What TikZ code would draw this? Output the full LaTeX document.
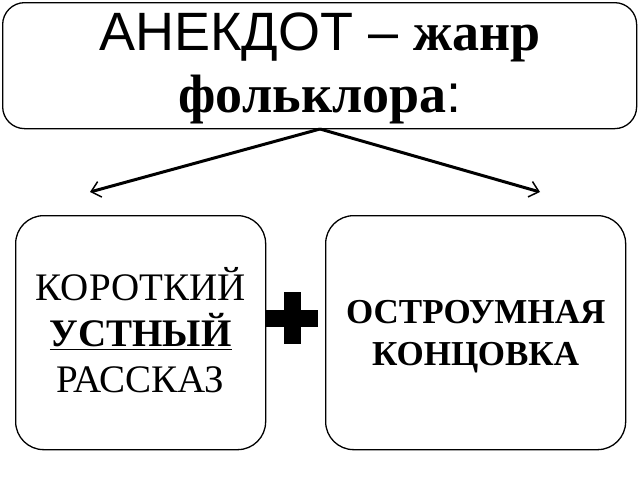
\documentclass[tikz,border=0pt]{standalone}
\usepackage{fontspec}
\setmainfont{Liberation Serif}
\newfontfamily\arialf{Liberation Sans}
\usetikzlibrary{arrows.meta}
\begin{document}
\begin{tikzpicture}[x=1pt,y=-1pt,
  box/.style={draw=black,line width=1.3pt,rounded corners=28pt,fill=white},
  arr/.style={line width=3pt,-{Straight Barb[length=9pt,width=16pt,line width=1.5pt]}}]
\useasboundingbox (0,0) rectangle (640,480);
\node[box,rounded corners=22pt,minimum width=634pt,minimum height=126pt,anchor=north west] (title) at (2,2) {};
\node[align=center,font=\fontsize{54}{62}\selectfont] (tt) at (320,68) {{\arialf АНЕКДОТ – }\textbf{жанр}\\\textbf{фольклора}{\arialf :}};
\coordinate (top) at (320,129);
\coordinate (l) at (90,192);
\coordinate (r) at (540,192);
\draw[arr] (top) -- (l);
\draw[arr] (top) -- (r);
\node[box,minimum width=250pt,minimum height=234pt,anchor=north west] (left) at (15,215) {};
\node[box,minimum width=300pt,minimum height=234pt,anchor=north west] (right) at (325,215) {};
\node[align=center,font=\fontsize{39}{46}\selectfont] (lt) at ([yshift=2pt]left.center) {КОРОТКИЙ\\\textbf{\underline{УСТНЫЙ}}\\РАССКАЗ};
\node[align=center,font=\fontsize{35}{42}\selectfont\bfseries] (rt) at ([yshift=-4pt]right.center) {ОСТРОУМНАЯ\\КОНЦОВКА};
\node[fill=black,minimum width=52pt,minimum height=17pt,inner sep=0pt] (ph) at (292,318) {};
\node[fill=black,minimum width=17pt,minimum height=52pt,inner sep=0pt] (pv) at (292,318) {};
\end{tikzpicture}
\end{document}
